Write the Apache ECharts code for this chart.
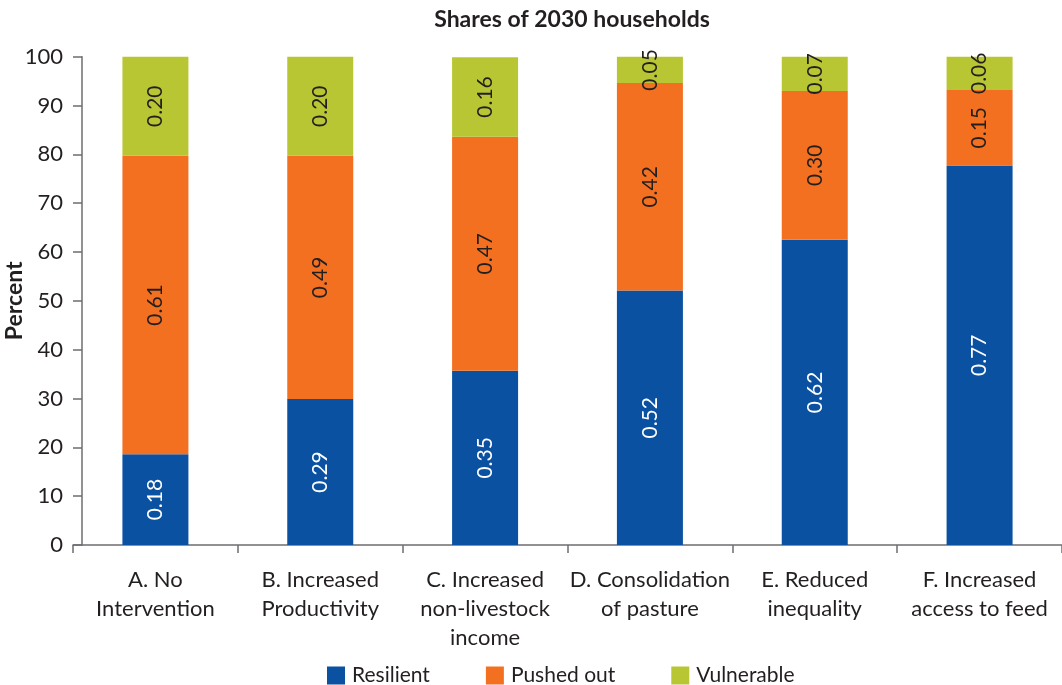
<!DOCTYPE html>
<html>
<head>
<meta charset="utf-8">
<script src="https://cdn.jsdelivr.net/npm/echarts@6/dist/echarts.min.js"></script>
<style>
  html, body { margin: 0; padding: 0; background: #ffffff; }
  #chart { width: 1062px; height: 685px; }
</style>
</head>
<body>
<div id="chart"></div>
<script>
// Scenario categories (x axis)
const categories = [
  'A. No\nIntervention',
  'B. Increased\nProductivity',
  'C. Increased\nnon-livestock\nincome',
  'D. Consolidation\nof pasture',
  'E. Reduced\ninequality',
  'F. Increased\naccess to feed'
];

// Shares of 2030 households, in percent
const resilient  = [18.6, 29.9, 35.7, 52.1, 62.5, 77.7];
const pushedOut  = [61.1, 49.8, 47.9, 42.5, 30.5, 15.5];
const vulnerable = [20.3, 20.3, 16.3, 5.4, 7.0, 6.8];

// Y axis ticks
const yMin = 0;
const yMax = 100;
const yStep = 10;

const FONT = 'Lato';
const TEXT = '#231f20';
const AXIS = '#6d6e71';

// Segment label: share as a fraction, truncated to two decimals
const shareLabel = (p) => (Math.floor(p.value) / 100).toFixed(2);

function barSeries(name, data, color, labelColor) {
  return {
    name: name,
    type: 'bar',
    stack: 'total',
    xAxisIndex: 0,
    yAxisIndex: 0,
    data: data,
    barWidth: 66,
    itemStyle: { color: color },
    label: {
      show: true,
      position: 'inside',
      rotate: 90,
      formatter: shareLabel,
      color: labelColor,
      fontFamily: FONT,
      fontSize: 21
    }
  };
}

const plotTop = 56.7;
const plotBottom = 140;

const chart = echarts.init(document.getElementById('chart'), null, { renderer: 'canvas' });

chart.setOption({
  animation: false,
  backgroundColor: '#ffffff',
  title: {
    text: 'Shares of 2030 households',
    left: 567,
    top: 3,
    textAlign: 'center',
    textStyle: { fontFamily: FONT, fontWeight: 'bold', fontSize: 23, color: TEXT }
  },
  legend: {
    left: 322,
    top: 660,
    itemWidth: 18,
    itemHeight: 18,
    itemGap: 56,
    icon: 'rect',
    textStyle: { fontFamily: FONT, fontSize: 21, color: TEXT, padding: [0, 0, 0, 2] },
    data: ['Resilient', 'Pushed out', 'Vulnerable']
  },
  grid: [
    // bars and category axis (axis line runs slightly left of the value axis)
    { left: 73, right: 0, top: plotTop, bottom: plotBottom, containLabel: false, outerBoundsMode: 'none' },
    // value axis drawn at the plot's left edge
    { left: 82, right: 0, top: plotTop, bottom: plotBottom, containLabel: false, outerBoundsMode: 'none' }
  ],
  xAxis: [
    {
      type: 'category',
      gridIndex: 0,
      data: categories,
      axisLine: { lineStyle: { color: AXIS, width: 1.5 } },
      axisTick: { show: true, length: 8, alignWithLabel: false, lineStyle: { color: AXIS, width: 1.5 } },
      axisLabel: {
        interval: 0,
        margin: 20,
        fontFamily: FONT,
        fontSize: 22,
        lineHeight: 29,
        color: TEXT
      }
    },
    { type: 'category', gridIndex: 1, data: categories, show: false }
  ],
  yAxis: [
    {
      type: 'value',
      gridIndex: 0,
      min: yMin,
      max: yMax,
      interval: yStep,
      show: false
    },
    {
      type: 'value',
      gridIndex: 1,
      min: yMin,
      max: yMax,
      interval: yStep,
      name: 'Percent',
      nameLocation: 'middle',
      nameRotate: 90,
      nameGap: 56,
      nameMoveOverlap: false,
      nameTextStyle: { fontFamily: FONT, fontWeight: 'bold', fontSize: 23, color: TEXT },
      axisLine: { show: true, lineStyle: { color: AXIS, width: 1.5 } },
      axisTick: { show: true, length: 9, lineStyle: { color: AXIS, width: 1.5 } },
      axisLabel: { margin: 19, fontFamily: FONT, fontSize: 22, color: TEXT },
      splitLine: { show: false }
    }
  ],
  series: [
    barSeries('Resilient', resilient, '#0a51a1', '#ffffff'),
    barSeries('Pushed out', pushedOut, '#f37021', TEXT),
    barSeries('Vulnerable', vulnerable, '#b8c634', TEXT)
  ]
});
</script>
</body>
</html>
